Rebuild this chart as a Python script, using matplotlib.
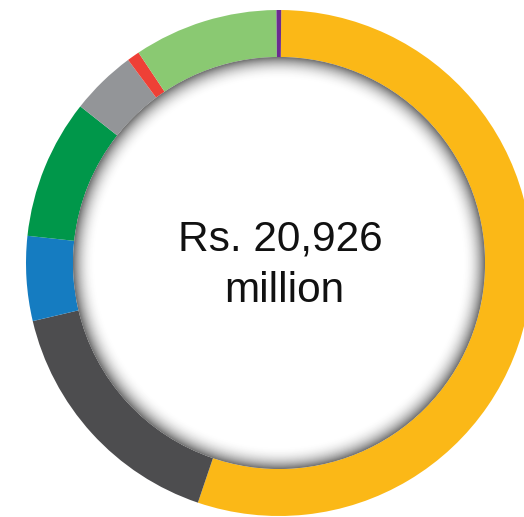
import matplotlib
matplotlib.use("Agg")
import matplotlib.pyplot as plt
from matplotlib.patches import Circle

# segment shares (%), clockwise from 12 o'clock
segments = ["Yellow", "Dark grey", "Blue", "Green", "Grey", "Red", "Light green", "Purple"]
shares = [55.0, 16.1, 5.4, 8.9, 4.2, 0.8, 9.2, 0.3]
colors = ["#FBB817", "#4D4D4F", "#157CC1", "#00974A", "#939598", "#EE4036", "#8AC972", "#6B2C91"]
title_lines = ["Rs. 20,926", "million"]

W, H = 524, 517
cx, cy = 279, H - 263
r_out, r_in = 253, 206

fig = plt.figure(figsize=(W / 100, H / 100), dpi=100)
ax = fig.add_axes([0, 0, 1, 1])

ax.pie(shares, colors=colors, startangle=89.5, counterclock=False,
       center=(cx, cy), radius=r_out,
       wedgeprops=dict(width=r_out - r_in, linewidth=0))
ax.set_xlim(0, W)
ax.set_ylim(0, H)
ax.set_aspect("auto")
ax.axis("off")

# soft inner shadow on the white centre: grey at the rim fading to white
n = 48
depth = 22
for i in range(n + 1):
    t = i / n
    r = r_in - t * depth
    shade = 1 - 0.55 * (1 - t) ** 2.2
    ax.add_patch(Circle((cx, cy), r, color=(shade, shade, shade), lw=0, zorder=3 + i * 0.001))

ax.text(cx + 1, H - 250, title_lines[0], ha="center", va="baseline", fontsize=30.5,
        family="Liberation Sans", color="#111111", zorder=6)
ax.text(cx + 5, H - 302, title_lines[1], ha="center", va="baseline", fontsize=30.5,
        family="Liberation Sans", color="#111111", zorder=6)

fig.savefig("out.png", dpi=100)
